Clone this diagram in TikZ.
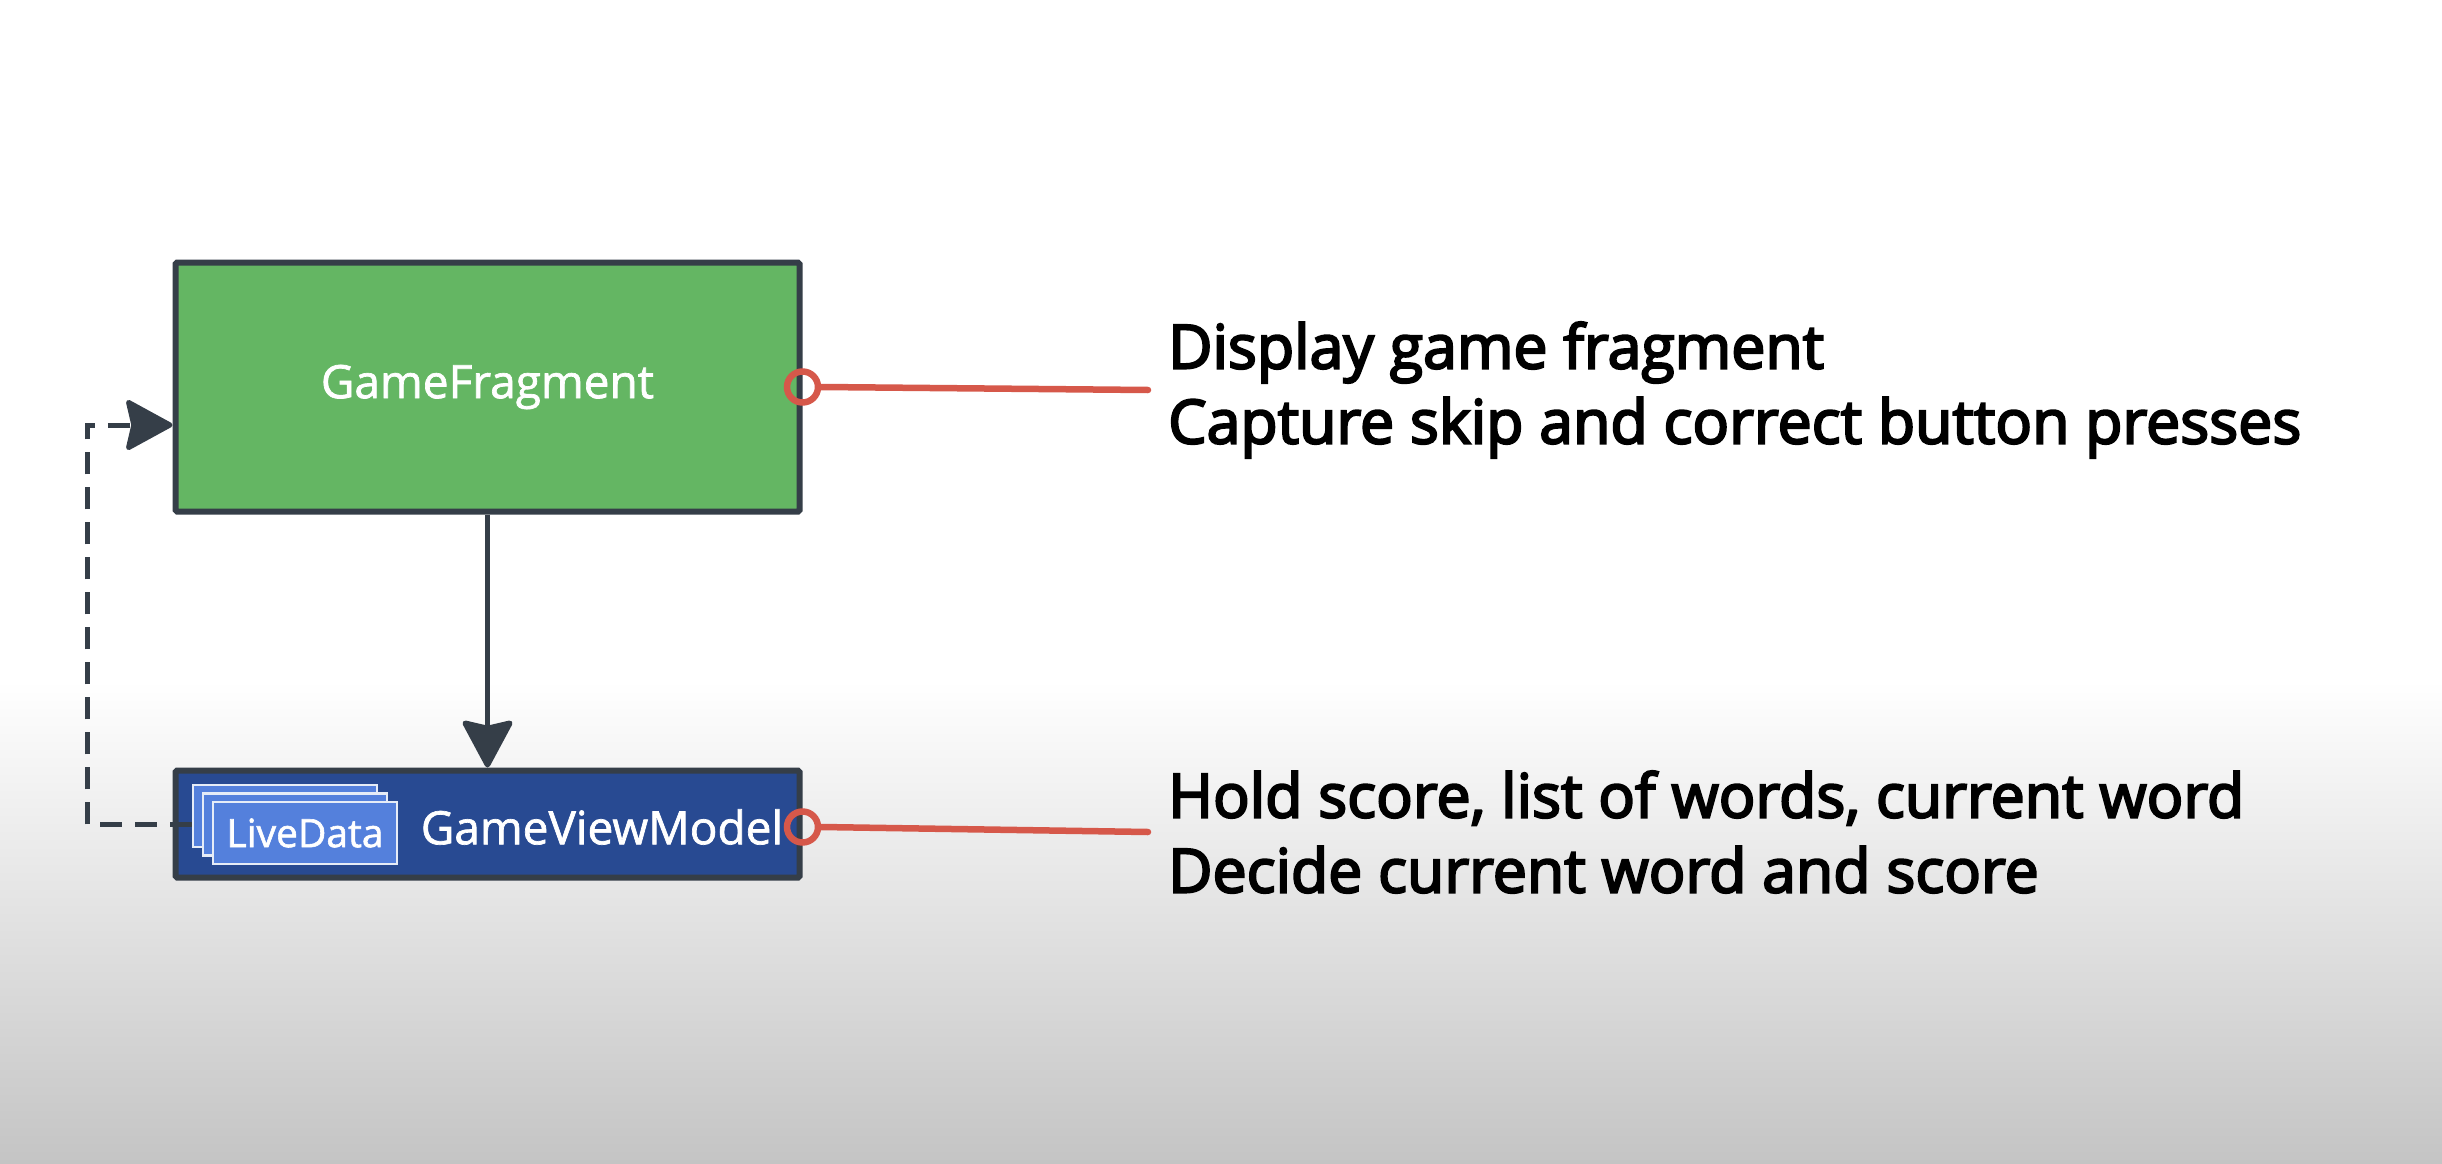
\documentclass[tikz,border=0pt]{standalone}
\usepackage{fontspec}
\setmainfont{Open Sans}
\newfontfamily\semib[FakeBold=3.5]{Open Sans}
\newfontfamily\medf[FakeBold=1.5]{Open Sans}
\usetikzlibrary{arrows.meta}
\definecolor{gfgreen}{HTML}{64B663}
\definecolor{edge}{HTML}{353E48}
\definecolor{vmblue}{HTML}{284A92}
\definecolor{ldblue}{HTML}{5480DC}
\definecolor{ldedge}{HTML}{E6ECF7}
\definecolor{redc}{HTML}{D6584A}
\definecolor{bggray}{HTML}{C4C4C4}
\begin{document}
\begin{tikzpicture}[x=1pt,y=-1pt,
  box/.style={draw=edge, line width=6pt, rounded corners=1.5pt, inner sep=0pt, text=white,
    font=\medf\fontsize{46}{55}\selectfont},
  ldbox/.style={draw=ldedge, fill=ldblue, line width=2.5pt, minimum width=184pt, minimum height=62pt,
    inner sep=0pt, text=white, font=\medf\fontsize{39}{46}\selectfont},
  port/.style={circle, draw=redc, line width=6.5pt, minimum size=31pt, inner sep=0pt},
  redline/.style={draw=redc, line width=6.5pt, line cap=round},
  note/.style={anchor=west, align=left, inner sep=0pt, font=\semib\fontsize{60.8}{75}\selectfont},
  flow/.style={draw=edge, line width=5.5pt, -{Stealth[length=51pt,width=54pt,inset=6pt,round]}},
  dflow/.style={draw=edge, line width=5pt, dash pattern=on 22pt off 13pt,
    -{Stealth[length=50pt,width=54pt,inset=6pt,round]}}
]
\useasboundingbox (0,0) rectangle (2442,1164);
\fill[white] (0,0) rectangle (2442,1164);
\shade[top color=white, bottom color=bggray] (0,680) rectangle (2442,1164);

\node[box, fill=gfgreen, minimum width=624pt, minimum height=249pt] (gf) at (487.5,387) {GameFragment};
\node[box, fill=vmblue, minimum width=624pt, minimum height=107pt] (gvm) at (487.5,824) {};
\node[text=white, font=\medf\fontsize{46}{55}\selectfont, inner sep=0pt] (gvmlabel) at (602,827) {GameViewModel};

\node[ldbox] (ld1) at (285,816) {};
\node[ldbox] (ld2) at (295,824.5) {};
\node[ldbox] (ld3) at (305,833) {LiveData};

\draw[flow] (gf.south) -- (gvm.north);
\coordinate (gfin) at ([yshift=-38pt]gf.west);
\coordinate (corner) at (87,425);
\draw[dflow] (ld2.center -| ld1.west) -| (corner) -- (gfin);

\node[note] (t1) at (1168,390) {Display game fragment\\Capture skip and correct button presses};
\node[note] (t2) at (1168,832) {Hold score, list of words, current word\\Decide current word and score};

\node[port] (p1) at (gf.east) {};
\node[port] (p2) at (gvm.east |- gvmlabel) {};
\draw[redline] (p1.east) -- ([xshift=-20pt]t1.west);
\draw[redline] (p2.east) -- ([xshift=-20pt]t2.west);
\end{tikzpicture}
\end{document}
